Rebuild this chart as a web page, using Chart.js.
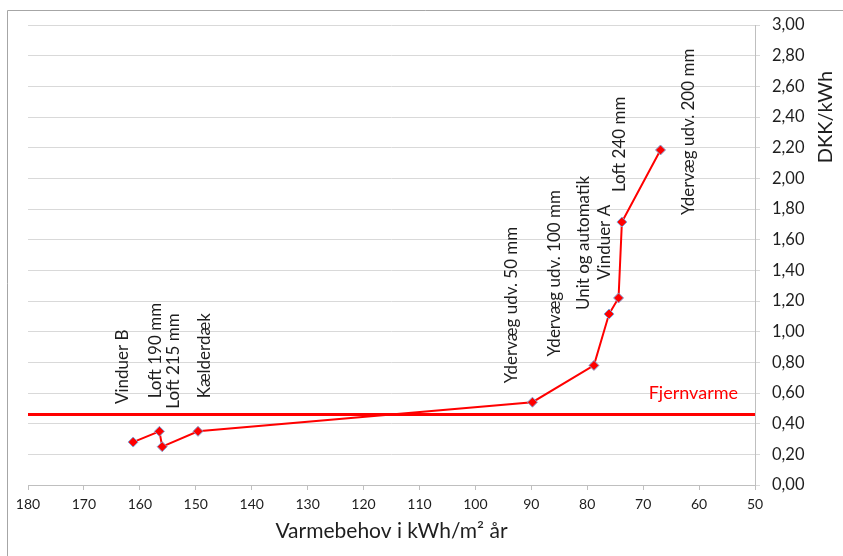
<!DOCTYPE html>
<html>
<head>
<meta charset="utf-8">
<script src="https://cdn.jsdelivr.net/npm/chart.js@4/dist/chart.umd.min.js"></script>
<style>
  html, body { margin: 0; padding: 0; background: #fff; }
  #wrap { width: 843px; height: 556px; position: relative; }
</style>
</head>
<body>
<div id="wrap"><canvas id="c" width="843" height="556"></canvas></div>
<script>
// Heat demand (kWh/m² per year) after each measure, and the price per saved kWh
const measures = ['Vinduer B', 'Loft 190 mm', 'Loft 215 mm', 'Kælderdæk',
  'Ydervæg udv. 50 mm', 'Ydervæg udv. 100 mm', 'Unit og automatik',
  'Vinduer A', 'Loft 240 mm', 'Ydervæg udv. 200 mm'];
const heatDemand = [161.2, 156.5, 156.0, 149.6, 89.8, 78.8, 76.1, 74.4, 73.8, 66.9];
const pricePerKwh = [0.28, 0.35, 0.25, 0.35, 0.54, 0.78, 1.115, 1.22, 1.715, 2.185];

// District heating reference price
const districtHeatingLabel = 'Fjernvarme';
const districtHeatingPrice = 0.46;

// Axis ranges
const xRange = [50, 180];
const yRange = [0, 3];

// Label placement relative to each point: [dx, dy] in px to the start of the vertical text
const labelOffsets = [[-11, -38], [-4, -33], [11, -38], [7, -33], [-21, -19],
  [-39, -9], [-26, -4], [-14, -18], [-2, -30], [28, 65]];

const FONT = 'Lato, "Open Sans", sans-serif';
const TEXT = '#1e1e1e';

const overlay = {
  id: 'overlay',
  afterDatasetsDraw(chart) {
    const { ctx, scales: { x, y } } = chart;
    ctx.save();
    // measure labels, written bottom-to-top
    ctx.font = '17px ' + FONT;
    ctx.fillStyle = TEXT;
    ctx.textAlign = 'left';
    ctx.textBaseline = 'middle';
    measures.forEach((m, i) => {
      const px = x.getPixelForValue(heatDemand[i]) + labelOffsets[i][0];
      const py = y.getPixelForValue(pricePerKwh[i]) + labelOffsets[i][1];
      ctx.save();
      ctx.translate(px, py);
      ctx.rotate(-Math.PI / 2);
      ctx.fillText(m, 0, 0);
      ctx.restore();
    });
    // district heating label
    ctx.font = '18px ' + FONT;
    ctx.fillStyle = '#FF0000';
    ctx.textAlign = 'right';
    ctx.fillText(districtHeatingLabel, chart.chartArea.right - 17,
      y.getPixelForValue(districtHeatingPrice) - 21);
    // y axis title
    ctx.font = '20px ' + FONT;
    ctx.fillStyle = TEXT;
    ctx.textAlign = 'center';
    ctx.save();
    ctx.translate(826, 117);
    ctx.rotate(-Math.PI / 2);
    ctx.fillText('DKK/kWh', 0, 0);
    ctx.restore();
    // frame
    ctx.strokeStyle = '#A6A6A6';
    ctx.lineWidth = 1;
    ctx.beginPath();
    ctx.moveTo(7.5, 556);
    ctx.lineTo(7.5, 10.5);
    ctx.lineTo(843, 10.5);
    ctx.stroke();
    ctx.restore();
  }
};

new Chart(document.getElementById('c'), {
  type: 'scatter',
  data: {
    datasets: [
      {
        data: heatDemand.map((v, i) => ({ x: v, y: pricePerKwh[i] })),
        showLine: true,
        borderColor: '#FF0000',
        borderWidth: 2,
        pointStyle: 'rectRot',
        pointRadius: 5,
        pointBackgroundColor: '#FF0000',
        pointBorderColor: '#7FA6D8',
        pointBorderWidth: 1,
        order: 1
      },
      {
        data: [{ x: xRange[1], y: districtHeatingPrice }, { x: xRange[0], y: districtHeatingPrice }],
        showLine: true,
        borderColor: '#FF0000',
        borderWidth: 3,
        pointRadius: 0,
        order: 0
      }
    ]
  },
  options: {
    responsive: false,
    animation: false,
    layout: { padding: { left: 28, top: 25, right: 0, bottom: 0 } },
    plugins: { legend: { display: false }, tooltip: { enabled: false } },
    scales: {
      x: {
        type: 'linear',
        reverse: true,
        min: xRange[0],
        max: xRange[1],
        afterFit(s) { s.height = 71; },
        ticks: { stepSize: 10, color: TEXT, font: { family: FONT, size: 14 }, padding: 6, maxRotation: 0 },
        grid: { drawOnChartArea: false, drawTicks: true, tickLength: 5, color: '#BFBFBF' },
        border: { color: '#BFBFBF' },
        title: {
          display: true,
          text: 'Varmebehov i kWh/m² år',
          color: TEXT,
          font: { family: FONT, size: 21 },
          padding: { top: 0, bottom: 12 }
        }
      },
      y: {
        position: 'right',
        min: yRange[0],
        max: yRange[1],
        afterFit(s) { s.width = 88; },
        ticks: {
          stepSize: 0.2,
          color: TEXT,
          font: { family: FONT, size: 16.5 },
          padding: 12,
          callback: v => v.toFixed(2).replace('.', ',')
        },
        grid: { color: '#D9D9D9', tickLength: 5 },
        border: { color: '#BFBFBF' }
      }
    }
  },
  plugins: [overlay]
});
</script>
</body>
</html>
